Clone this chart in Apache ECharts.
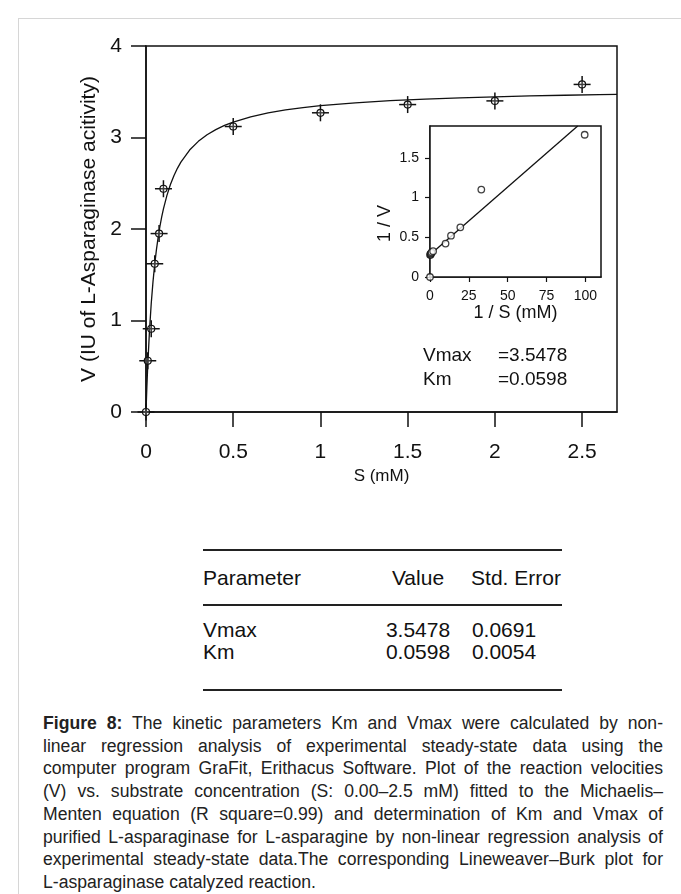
<!DOCTYPE html>
<html>
<head>
<meta charset="utf-8">
<script src="https://cdn.jsdelivr.net/npm/echarts@6/dist/echarts.min.js"></script>
<style>
html,body{margin:0;padding:0;background:#fff;}
body{width:681px;height:894px;position:relative;overflow:hidden;font-family:"Liberation Sans",Arial,sans-serif;color:#111;}
#frame{position:absolute;left:18px;top:18px;width:700px;height:900px;border-left:1px solid #d6d6d6;border-top:1px solid #d6d6d6;}
#chart{position:absolute;left:0;top:0;width:681px;height:520px;}
.rule{position:absolute;left:203px;width:359px;height:1.5px;background:#222;}
.t{position:absolute;font-size:21px;line-height:21px;white-space:nowrap;}
.c{transform:translateX(-50%);}
#cap{position:absolute;left:43px;top:712px;width:620px;font-size:17.6px;line-height:22.7px;color:#222;}
#cap div{text-align:justify;text-align-last:justify;white-space:nowrap;}
#cap div.last{text-align-last:left;}
</style>
</head>
<body>
<div id="frame"></div>
<div id="chart"></div>

<div class="rule" style="top:549px"></div>
<div class="t" style="left:203px;top:567px">Parameter</div>
<div class="t c" style="left:418px;top:567px">Value</div>
<div class="t c" style="left:516px;top:567px">Std. Error</div>
<div class="rule" style="top:604px"></div>
<div class="t" style="left:203px;top:619px">Vmax</div>
<div class="t c" style="left:418px;top:619px">3.5478</div>
<div class="t c" style="left:504px;top:619px">0.0691</div>
<div class="t" style="left:203px;top:641px">Km</div>
<div class="t c" style="left:418px;top:641px">0.0598</div>
<div class="t c" style="left:504px;top:641px">0.0054</div>
<div class="rule" style="top:689px"></div>

<div id="cap">
<div><b>Figure 8:</b> The kinetic parameters Km and Vmax were calculated by non-</div>
<div>linear regression analysis of experimental steady-state data using the</div>
<div>computer program GraFit, Erithacus Software. Plot of the reaction velocities</div>
<div>(V) vs. substrate concentration (S: 0.00–2.5 mM) fitted to the Michaelis–</div>
<div>Menten equation (R square=0.99) and determination of Km and Vmax of</div>
<div>purified L-asparaginase for L-asparagine by non-linear regression analysis of</div>
<div>experimental steady-state data.The corresponding Lineweaver–Burk plot for</div>
<div class="last">L-asparaginase catalyzed reaction.</div>
</div>

<script>
// Main plot: measured points (S in mM, V in IU)
const S = [0, 0.01, 0.03, 0.05, 0.075, 0.1, 0.5, 1.0, 1.5, 2.0, 2.5];
const V = [0, 0.56, 0.91, 1.62, 1.95, 2.44, 3.12, 3.27, 3.36, 3.40, 3.58];
// Fitted curve
const fitS = [0, 0.005, 0.01, 0.02, 0.03, 0.04, 0.05, 0.06, 0.07, 0.08, 0.09, 0.10, 0.12, 0.14, 0.16, 0.18, 0.20, 0.25, 0.30, 0.35, 0.40, 0.45, 0.50, 0.6, 0.7, 0.8, 0.9, 1.0, 1.2, 1.4, 1.6, 1.8, 2.0, 2.2, 2.4, 2.6, 2.7];
const fitV = [0, 0.274, 0.508, 0.889, 1.185, 1.422, 1.616, 1.777, 1.913, 2.030, 2.132, 2.220, 2.368, 2.486, 2.583, 2.663, 2.731, 2.863, 2.958, 3.030, 3.086, 3.132, 3.169, 3.226, 3.269, 3.301, 3.327, 3.348, 3.379, 3.403, 3.420, 3.434, 3.445, 3.454, 3.462, 3.468, 3.471];
const xTicks = [0, 0.5, 1, 1.5, 2, 2.5];
// Inset: Lineweaver-Burk
const invS = [0, 0, 0.4, 0.5, 0.7, 1.0, 2.0, 10, 13.5, 19.5, 33, 99.5];
const invV = [0, 0.28, 0.28, 0.29, 0.30, 0.31, 0.325, 0.42, 0.52, 0.625, 1.10, 1.79];
const lbLineX = [0, 95];
const lbLineY = [0.28, 1.9];
const insetXTicks = [0, 25, 50, 75, 100];
const insetYTicks = [0, 0.5, 1, 1.5];

const ink = '#111';
const font = '"Liberation Sans", Arial, sans-serif';
const chart = echarts.init(document.getElementById('chart'), null, {renderer: 'canvas'});

chart.setOption({
  animation: false,
  backgroundColor: 'transparent',
  grid: [
    {left: 146, top: 46, width: 471, height: 366, show: true, borderColor: ink, borderWidth: 1.5, backgroundColor: 'transparent'},
    {left: 430, top: 126, width: 171, height: 151, show: true, borderColor: ink, borderWidth: 1.5, backgroundColor: '#fff', z: 3}
  ],
  xAxis: [
    {type: 'value', gridIndex: 0, min: 0, max: 2.7,
     axisLine: {show: true, onZero: false, lineStyle: {color: ink, width: 1.5}},
     axisTick: {show: true, length: 15, customValues: xTicks, lineStyle: {color: ink, width: 1.5}},
     axisLabel: {customValues: xTicks, fontSize: 21, margin: 30, color: ink, fontFamily: font},
     splitLine: {show: false},
     name: 'S (mM)', nameLocation: 'middle', nameGap: 56,
     nameTextStyle: {fontSize: 17, color: ink, fontFamily: font}},
    {type: 'value', gridIndex: 1, min: 0, max: 110,
     axisLine: {show: true, onZero: false, lineStyle: {color: ink, width: 1.5}},
     axisTick: {show: true, length: 5, customValues: insetXTicks, lineStyle: {color: ink, width: 1.2}},
     axisLabel: {customValues: insetXTicks, fontSize: 14, margin: 12, color: ink, fontFamily: font},
     splitLine: {show: false},
     name: '1 / S (mM)', nameLocation: 'middle', nameGap: 25,
     nameTextStyle: {fontSize: 18, color: ink, fontFamily: font}}
  ],
  yAxis: [
    {type: 'value', gridIndex: 0, min: 0, max: 4, interval: 1,
     axisLine: {show: true, onZero: false, lineStyle: {color: ink, width: 1.5}},
     axisTick: {show: true, length: 15, lineStyle: {color: ink, width: 1.5}},
     axisLabel: {fontSize: 21, margin: 24, color: ink, fontFamily: font},
     splitLine: {show: false},
     name: 'V (IU of L-Asparaginase acitivity)', nameLocation: 'middle', nameGap: 46,
     nameTextStyle: {fontSize: 21, color: ink, fontFamily: font}},
    {type: 'value', gridIndex: 1, min: 0, max: 1.9,
     axisLine: {show: true, onZero: false, lineStyle: {color: ink, width: 1.5}},
     axisTick: {show: true, length: 5, customValues: insetYTicks, lineStyle: {color: ink, width: 1.2}},
     axisLabel: {customValues: insetYTicks, fontSize: 14, margin: 11, color: ink, fontFamily: font},
     splitLine: {show: false},
     name: '1 / V', nameLocation: 'middle', nameGap: 36,
     nameTextStyle: {fontSize: 18, color: ink, fontFamily: font, padding: [0, 44, 0, 0]}}
  ],
  series: [
    {type: 'line', xAxisIndex: 0, yAxisIndex: 0, data: fitS.map((s, i) => [s, fitV[i]]),
     smooth: false, showSymbol: false, lineStyle: {color: ink, width: 1.3, join: 'round'}, z: 2},
    {type: 'custom', xAxisIndex: 0, yAxisIndex: 0, data: S.map((s, i) => [s, V[i]]), z: 4,
     renderItem: function (params, api) {
       const p = api.coord([api.value(0), api.value(1)]);
       const h = 8.5;
       const st = {stroke: ink, lineWidth: 1.5};
       return {type: 'group', children: [
         {type: 'line', shape: {x1: p[0] - h, y1: p[1], x2: p[0] + h, y2: p[1]}, style: st},
         {type: 'line', shape: {x1: p[0], y1: p[1] - h, x2: p[0], y2: p[1] + h}, style: st},
         {type: 'circle', shape: {cx: p[0], cy: p[1], r: 3.5}, style: {fill: 'rgba(255,255,255,0.2)', stroke: ink, lineWidth: 1.2}}
       ]};
     }},
    {type: 'line', xAxisIndex: 1, yAxisIndex: 1, data: lbLineX.map((x, i) => [x, lbLineY[i]]),
     showSymbol: false, lineStyle: {color: ink, width: 1.3}, z: 5},
    {type: 'scatter', xAxisIndex: 1, yAxisIndex: 1, data: invS.map((x, i) => [x, invV[i]]),
     symbol: 'circle', symbolSize: 6.5, clip: false,
     itemStyle: {color: '#fff', borderColor: ink, borderWidth: 1.3}, z: 6}
  ],
  graphic: [
    {type: 'text', left: 423, top: 346, z: 10, style: {text: 'Vmax', fontSize: 19, fill: ink, fontFamily: font}},
    {type: 'text', left: 498, top: 346, z: 10, style: {text: '=3.5478', fontSize: 19, fill: ink, fontFamily: font}},
    {type: 'text', left: 423, top: 370, z: 10, style: {text: 'Km', fontSize: 19, fill: ink, fontFamily: font}},
    {type: 'text', left: 498, top: 370, z: 10, style: {text: '=0.0598', fontSize: 19, fill: ink, fontFamily: font}}
  ]
});
</script>
</body>
</html>
